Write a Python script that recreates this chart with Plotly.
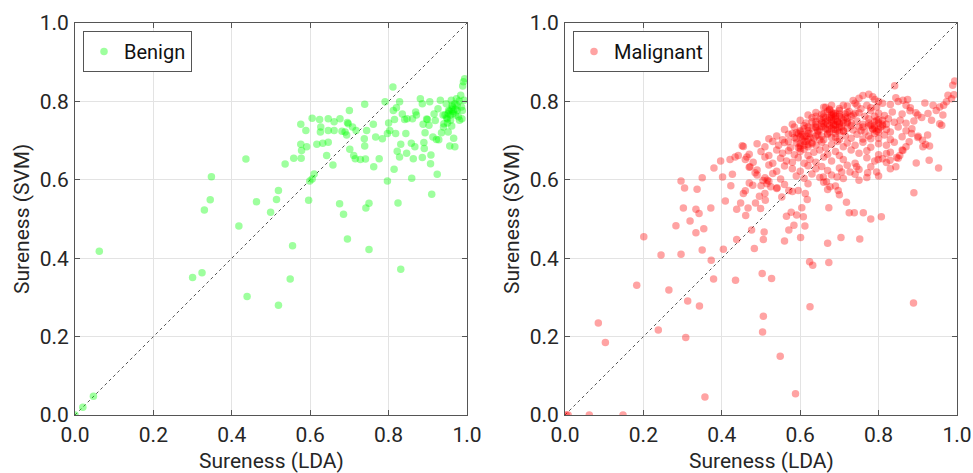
import plotly.graph_objects as go

# ---------------- Benign ----------------
benign_lda = [0.0, 0.02, 0.047, 0.062, 0.30, 0.324, 0.33, 0.345, 0.348, 0.418,
              0.436, 0.439, 0.463, 0.499, 0.514, 0.519, 0.519, 0.536, 0.549, 0.555,
              0.558, 0.576, 0.576, 0.577, 0.578, 0.589, 0.591, 0.596, 0.599, 0.605,
              0.61, 0.605, 0.617, 0.624, 0.626, 0.627, 0.632, 0.642, 0.646, 0.646,
              0.646, 0.658, 0.661, 0.661, 0.676, 0.675, 0.681, 0.685, 0.689, 0.693,
              0.695, 0.695, 0.70, 0.697, 0.701, 0.711, 0.708, 0.715, 0.717, 0.728,
              0.739, 0.738, 0.739, 0.742, 0.741, 0.744, 0.75, 0.75, 0.761, 0.762,
              0.767, 0.776, 0.784, 0.791, 0.797, 0.797, 0.80, 0.803, 0.811, 0.812,
              0.815, 0.814, 0.818, 0.82, 0.822, 0.824, 0.828, 0.828, 0.831, 0.831,
              0.835, 0.841, 0.844, 0.846, 0.847, 0.858, 0.859, 0.861, 0.863, 0.867,
              0.869, 0.871, 0.881, 0.886, 0.886, 0.888, 0.89, 0.891, 0.893, 0.897,
              0.899, 0.903, 0.905, 0.907, 0.908, 0.91, 0.913, 0.916, 0.919, 0.922,
              0.924, 0.926, 0.928, 0.932, 0.935, 0.939, 0.941, 0.944, 0.947, 0.95,
              0.952, 0.953, 0.956, 0.958, 0.96, 0.961, 0.963, 0.964, 0.966, 0.969,
              0.969, 0.971, 0.973, 0.975, 0.978, 0.98, 0.981, 0.984, 0.986, 0.987,
              0.989, 0.991, 0.994, 0.992, 0.988, 0.952, 0.955, 0.96, 0.965, 0.958,
              0.948, 0.962, 0.97, 0.95, 0.94, 0.975]
benign_svm = [0.0, 0.02, 0.048, 0.418, 0.351, 0.363, 0.523, 0.549, 0.608, 0.482,
              0.653, 0.302, 0.544, 0.517, 0.55, 0.573, 0.280, 0.640, 0.347, 0.432,
              0.655, 0.742, 0.691, 0.655, 0.675, 0.726, 0.684, 0.548, 0.597, 0.602,
              0.615, 0.757, 0.691, 0.754, 0.722, 0.735, 0.693, 0.662, 0.696, 0.756,
              0.726, 0.638, 0.748, 0.726, 0.756, 0.539, 0.724, 0.512, 0.722, 0.714,
              0.746, 0.449, 0.777, 0.743, 0.678, 0.662, 0.735, 0.654, 0.726, 0.652,
              0.793, 0.705, 0.686, 0.528, 0.653, 0.726, 0.540, 0.422, 0.742, 0.633,
              0.709, 0.654, 0.705, 0.799, 0.597, 0.718, 0.745, 0.726, 0.837, 0.777,
              0.754, 0.627, 0.718, 0.784, 0.673, 0.541, 0.799, 0.658, 0.691, 0.372,
              0.768, 0.754, 0.718, 0.668, 0.756, 0.693, 0.604, 0.756, 0.654, 0.684,
              0.773, 0.765, 0.807, 0.794, 0.657, 0.742, 0.695, 0.680, 0.720, 0.755,
              0.754, 0.739, 0.799, 0.641, 0.663, 0.563, 0.709, 0.768, 0.751, 0.703,
              0.614, 0.781, 0.702, 0.803, 0.720, 0.765, 0.743, 0.765, 0.794, 0.756,
              0.722, 0.777, 0.686, 0.752, 0.803, 0.737, 0.786, 0.769, 0.706, 0.684,
              0.794, 0.765, 0.807, 0.777, 0.761, 0.801, 0.752, 0.816, 0.786, 0.756,
              0.839, 0.85, 0.858, 0.803, 0.777, 0.769, 0.775, 0.78, 0.775, 0.765,
              0.758, 0.79, 0.78, 0.745, 0.735, 0.79]

# ---------------- Malignant ----------------
malig_lda_outer = [0.003, 0.008, 0.062, 0.148, 0.085, 0.103, 0.183, 0.201, 0.238, 0.245,
                   0.265, 0.283, 0.296, 0.296, 0.302, 0.305, 0.308, 0.313, 0.319, 0.334,
                   0.334, 0.337, 0.342, 0.343, 0.35, 0.35, 0.354, 0.357, 0.372, 0.373,
                   0.379, 0.38, 0.397, 0.402, 0.404, 0.409, 0.421, 0.423, 0.427, 0.434,
                   0.435, 0.438, 0.438, 0.442, 0.448, 0.452, 0.455, 0.461, 0.464, 0.467,
                   0.472, 0.476, 0.479, 0.483, 0.485, 0.486, 0.496, 0.499, 0.503, 0.504,
                   0.506, 0.506, 0.508, 0.511, 0.516, 0.527, 0.541, 0.549, 0.553, 0.560,
                   0.565, 0.571, 0.571, 0.577, 0.584, 0.588, 0.591, 0.595, 0.601, 0.604,
                   0.608, 0.612, 0.613, 0.618, 0.624, 0.625, 0.632, 0.67, 0.673, 0.673,
                   0.697, 0.704, 0.718, 0.725, 0.738, 0.752, 0.761, 0.78, 0.807, 0.89,
                   0.889, 0.896, 0.929, 0.953]
malig_svm_outer = [0.0, 0.0, 0.0, 0.0, 0.235, 0.185, 0.331, 0.455, 0.217, 0.408,
                   0.319, 0.483, 0.410, 0.597, 0.528, 0.579, 0.198, 0.291, 0.495, 0.465,
                   0.525, 0.576, 0.514, 0.278, 0.605, 0.421, 0.475, 0.046, 0.528, 0.395,
                   0.347, 0.63, 0.648, 0.607, 0.423, 0.546, 0.652, 0.585, 0.614, 0.658,
                   0.344, 0.525, 0.448, 0.662, 0.541, 0.687, 0.565, 0.509, 0.658, 0.528,
                   0.633, 0.472, 0.586, 0.425, 0.618, 0.541, 0.558, 0.527, 0.361, 0.212,
                   0.252, 0.448, 0.467, 0.548, 0.599, 0.348, 0.58, 0.150, 0.556, 0.444,
                   0.507, 0.573, 0.472, 0.517, 0.484, 0.054, 0.510, 0.573, 0.453, 0.529,
                   0.506, 0.482, 0.565, 0.550, 0.391, 0.276, 0.382, 0.438, 0.389, 0.529,
                   0.573, 0.453, 0.543, 0.516, 0.516, 0.449, 0.516, 0.50, 0.506, 0.567,
                   0.286, 0.643, 0.65, 0.63]

malig_lda_right = [0.841, 0.844, 0.862, 0.874, 0.881, 0.895, 0.91, 0.918, 0.926, 0.935,
                   0.939, 0.947, 0.956, 0.964, 0.966, 0.973, 0.977, 0.986, 0.989, 0.994,
                   0.992, 0.961, 0.956, 0.913, 0.93, 0.901, 0.912, 0.925, 0.884, 0.878,
                   0.862, 0.854, 0.846, 0.844, 0.829, 0.82, 0.81, 0.799, 0.795, 0.772,
                   0.75, 0.744, 0.727, 0.706, 0.694, 0.676, 0.667, 0.659]
malig_svm_right = [0.840, 0.809, 0.803, 0.805, 0.784, 0.771, 0.759, 0.796, 0.769, 0.752,
                   0.790, 0.777, 0.786, 0.765, 0.790, 0.799, 0.816, 0.807, 0.841, 0.852,
                   0.817, 0.739, 0.743, 0.684, 0.686, 0.711, 0.701, 0.714, 0.718, 0.697,
                   0.675, 0.662, 0.657, 0.633, 0.650, 0.667, 0.654, 0.652, 0.620, 0.618,
                   0.599, 0.633, 0.620, 0.620, 0.607, 0.582, 0.595, 0.607]

malig_lda_core = [
    0.735, 0.75, 0.76, 0.775, 0.785, 0.79, 0.80, 0.745, 0.81,
    0.66, 0.68, 0.70, 0.72, 0.74, 0.755, 0.77, 0.78, 0.795, 0.83, 0.85, 0.87, 0.675, 0.71,
    0.62, 0.64, 0.655, 0.67, 0.685, 0.69, 0.70, 0.715, 0.725, 0.735, 0.75, 0.765, 0.78, 0.80,
    0.815, 0.835, 0.86, 0.88, 0.90, 0.66, 0.68, 0.72,
    0.58, 0.60, 0.615, 0.63, 0.64, 0.65, 0.66, 0.67, 0.675, 0.68, 0.69, 0.70, 0.71, 0.72,
    0.73, 0.745, 0.76, 0.775, 0.79, 0.80, 0.81, 0.825, 0.84, 0.855, 0.87, 0.89, 0.665, 0.685,
    0.695, 0.705, 0.64, 0.655,
    0.56, 0.585, 0.60, 0.61, 0.62, 0.63, 0.645, 0.655, 0.665, 0.675, 0.685, 0.69, 0.70, 0.71,
    0.72, 0.735, 0.75, 0.765, 0.775, 0.785, 0.795, 0.805, 0.82, 0.83, 0.85, 0.87, 0.885, 0.68,
    0.695, 0.79, 0.80, 0.61, 0.64,
    0.52, 0.54, 0.555, 0.57, 0.585, 0.595, 0.605, 0.615, 0.625, 0.635, 0.645, 0.66, 0.67, 0.68,
    0.69, 0.70, 0.715, 0.73, 0.745, 0.76, 0.775, 0.79, 0.80, 0.815, 0.83, 0.86, 0.90, 0.60,
    0.62, 0.59, 0.78,
    0.49, 0.51, 0.53, 0.545, 0.56, 0.575, 0.59, 0.60, 0.61, 0.62, 0.63, 0.64, 0.655, 0.665,
    0.68, 0.695, 0.71, 0.72, 0.74, 0.76, 0.78, 0.80, 0.82, 0.84, 0.87, 0.92, 0.455, 0.60, 0.62,
    0.47, 0.50, 0.52, 0.54, 0.555, 0.57, 0.585, 0.60, 0.61, 0.62, 0.635, 0.65, 0.67, 0.69,
    0.70, 0.73, 0.75, 0.77, 0.80, 0.83, 0.86,
    0.46, 0.48, 0.51, 0.53, 0.55, 0.565, 0.58, 0.595, 0.61, 0.625, 0.64, 0.66, 0.68, 0.71,
    0.74, 0.77, 0.79, 0.82, 0.85,
    0.47, 0.49, 0.52, 0.54, 0.56, 0.58, 0.60, 0.62, 0.64, 0.655, 0.67, 0.70, 0.72, 0.75,
    0.78, 0.83,
    0.49, 0.51, 0.53, 0.55, 0.59, 0.61, 0.63, 0.65, 0.68, 0.71, 0.74, 0.77, 0.80, 0.505, 0.515,
    0.47, 0.50, 0.52, 0.56, 0.62, 0.66, 0.69, 0.46, 0.51, 0.54, 0.58, 0.67, 0.70, 0.525,
    0.655, 0.665, 0.675, 0.685, 0.695, 0.705, 0.67, 0.69, 0.68, 0.7, 0.66, 0.71, 0.59, 0.605,
    0.615, 0.625, 0.6, 0.61, 0.78, 0.79, 0.8, 0.81, 0.795, 0.785, 0.64, 0.65, 0.72, 0.73,
    0.62, 0.63, 0.645, 0.66, 0.675, 0.69, 0.70, 0.715, 0.73, 0.655, 0.67, 0.685, 0.70, 0.64,
    0.68, 0.72, 0.61, 0.63, 0.65, 0.67, 0.69, 0.71, 0.665, 0.685, 0.60, 0.62, 0.64, 0.58,
    0.595, 0.57, 0.81, 0.82, 0.80, 0.775, 0.79, 0.76, 0.74, 0.755, 0.70, 0.68]
malig_svm_core = [
    0.802, 0.808, 0.815, 0.818, 0.812, 0.805, 0.80, 0.79, 0.795,
    0.785, 0.79, 0.782, 0.788, 0.795, 0.781, 0.79, 0.784, 0.786, 0.792, 0.80, 0.79, 0.78, 0.79,
    0.765, 0.772, 0.768, 0.775, 0.77, 0.762, 0.777, 0.768, 0.774, 0.765, 0.771, 0.762, 0.776, 0.77,
    0.764, 0.773, 0.768, 0.776, 0.765, 0.76, 0.765, 0.772,
    0.742, 0.752, 0.745, 0.758, 0.748, 0.755, 0.743, 0.752, 0.758, 0.746, 0.755, 0.744, 0.752, 0.757,
    0.745, 0.75, 0.742, 0.756, 0.748, 0.753, 0.742, 0.756, 0.747, 0.752, 0.744, 0.75, 0.748, 0.742,
    0.75, 0.758, 0.742, 0.75,
    0.728, 0.735, 0.722, 0.738, 0.726, 0.732, 0.725, 0.736, 0.73, 0.722, 0.738, 0.728, 0.734, 0.724,
    0.731, 0.727, 0.735, 0.722, 0.738, 0.73, 0.724, 0.735, 0.728, 0.722, 0.735, 0.725, 0.73, 0.732,
    0.726, 0.737, 0.728, 0.73, 0.735,
    0.705, 0.712, 0.702, 0.716, 0.708, 0.718, 0.704, 0.712, 0.718, 0.706, 0.714, 0.702, 0.716, 0.708,
    0.718, 0.703, 0.712, 0.706, 0.716, 0.704, 0.712, 0.718, 0.706, 0.714, 0.703, 0.71, 0.708, 0.71,
    0.703, 0.72, 0.705,
    0.692, 0.684, 0.698, 0.688, 0.695, 0.682, 0.694, 0.686, 0.698, 0.684, 0.692, 0.688, 0.696, 0.682,
    0.69, 0.698, 0.684, 0.694, 0.688, 0.696, 0.683, 0.692, 0.688, 0.696, 0.684, 0.69, 0.685, 0.68, 0.69,
    0.665, 0.672, 0.662, 0.676, 0.668, 0.674, 0.664, 0.672, 0.678, 0.662, 0.67, 0.676, 0.665, 0.672,
    0.662, 0.676, 0.668, 0.674, 0.664, 0.67, 0.676,
    0.652, 0.645, 0.658, 0.642, 0.655, 0.648, 0.645, 0.656, 0.642, 0.652, 0.645, 0.658, 0.648, 0.652,
    0.642, 0.656, 0.648, 0.644, 0.655,
    0.632, 0.625, 0.638, 0.622, 0.635, 0.628, 0.622, 0.636, 0.628, 0.634, 0.624, 0.63, 0.637, 0.626,
    0.633, 0.628,
    0.612, 0.605, 0.616, 0.602, 0.61, 0.604, 0.615, 0.606, 0.612, 0.603, 0.614, 0.606, 0.61, 0.598, 0.59,
    0.592, 0.585, 0.596, 0.588, 0.59, 0.594, 0.584, 0.572, 0.565, 0.578, 0.57, 0.575, 0.562, 0.582,
    0.745, 0.758, 0.738, 0.765, 0.748, 0.735, 0.728, 0.74, 0.755, 0.762, 0.735, 0.745, 0.705, 0.715,
    0.698, 0.708, 0.725, 0.688, 0.74, 0.732, 0.745, 0.738, 0.752, 0.728, 0.712, 0.728, 0.745, 0.738,
    0.735, 0.748, 0.722, 0.768, 0.778, 0.77, 0.742, 0.76, 0.762, 0.712, 0.742, 0.728, 0.768, 0.762,
    0.772, 0.748, 0.71, 0.695, 0.702, 0.718, 0.708, 0.726, 0.785, 0.752, 0.692, 0.718, 0.732, 0.718,
    0.682, 0.698, 0.752, 0.742, 0.722, 0.745, 0.762, 0.735, 0.77, 0.725, 0.722, 0.76]

malignant_lda = malig_lda_outer + malig_lda_right + malig_lda_core
malignant_svm = malig_svm_outer + malig_svm_right + malig_svm_core

tick_vals = [0.0, 0.2, 0.4, 0.6, 0.8, 1.0]
tick_text = ["0.0", "0.2", "0.4", "0.6", "0.8", "1.0"]
diag = [0.0, 1.0]

FONT = "Roboto, Arial, sans-serif"
W, H = 973, 473
LEFT = (75, 467)
RIGHT = (565, 957)
TOP, BOTTOM = 23, 415

fig = go.Figure()

fig.add_trace(go.Scatter(x=diag, y=diag, mode="lines", xaxis="x", yaxis="y",
                         line=dict(color="#555555", width=1, dash="dot"),
                         showlegend=False, hoverinfo="skip"))
fig.add_trace(go.Scatter(x=benign_lda, y=benign_svm, mode="markers", name="Benign",
                         xaxis="x", yaxis="y", legend="legend",
                         marker=dict(color="rgb(0,255,0)", size=7.5, opacity=0.38,
                                     line=dict(width=0))))
fig.add_trace(go.Scatter(x=diag, y=diag, mode="lines", xaxis="x2", yaxis="y2",
                         line=dict(color="#555555", width=1, dash="dot"),
                         showlegend=False, hoverinfo="skip"))
fig.add_trace(go.Scatter(x=malignant_lda, y=malignant_svm, mode="markers", name="Malignant",
                         xaxis="x2", yaxis="y2", legend="legend2",
                         marker=dict(color="rgb(255,0,0)", size=7.5, opacity=0.36,
                                     line=dict(width=0))))

ydom = [1 - BOTTOM / H, 1 - TOP / H]
axis_common = dict(range=[0, 1], tickvals=tick_vals, ticktext=tick_text,
                   showgrid=True, gridcolor="#e3e3e3", gridwidth=1,
                   showline=True, linecolor="#555555", linewidth=1, mirror="ticks",
                   ticks="inside", ticklen=5, tickcolor="#555555",
                   tickfont=dict(family=FONT, size=21, color="#262626"),
                   zeroline=False, fixedrange=True, automargin=False)

legend_common = dict(xanchor="left", yanchor="top",
                     bgcolor="white", bordercolor="#555555", borderwidth=1,
                     font=dict(family=FONT, size=20, color="#111111"),
                     itemsizing="trace", tracegroupgap=0)

fig.update_layout(
    width=W, height=H,
    margin=dict(l=0, r=0, t=0, b=0),
    paper_bgcolor="white", plot_bgcolor="white",
    font=dict(family=FONT, size=20, color="#262626"),
    xaxis=dict(domain=[LEFT[0] / W, LEFT[1] / W], anchor="y", ticklabelstandoff=1, **axis_common),
    yaxis=dict(domain=ydom, anchor="x", ticklabelstandoff=1, **axis_common),
    xaxis2=dict(domain=[RIGHT[0] / W, RIGHT[1] / W], anchor="y2", ticklabelstandoff=1, **axis_common),
    yaxis2=dict(domain=ydom, anchor="x2", ticklabelstandoff=1, **axis_common),
    legend=dict(x=83 / W, y=1 - 31 / H, **legend_common),
    legend2=dict(x=573 / W, y=1 - 31 / H, **legend_common),
)

title_font = dict(family=FONT, size=21, color="#262626")
for (x0, x1) in (LEFT, RIGHT):
    fig.add_annotation(text="Sureness (LDA)", xref="paper", yref="paper",
                       x=(x0 + x1) / 2 / W, y=1 - 461 / H, xanchor="center", yanchor="middle",
                       showarrow=False, font=title_font)
    fig.add_annotation(text="Sureness (SVM)", xref="paper", yref="paper",
                       x=(x0 - 53) / W, y=1 - (TOP + BOTTOM) / 2 / H,
                       xanchor="center", yanchor="middle", textangle=-90,
                       showarrow=False, font=title_font)

fig.write_html("out.html")
